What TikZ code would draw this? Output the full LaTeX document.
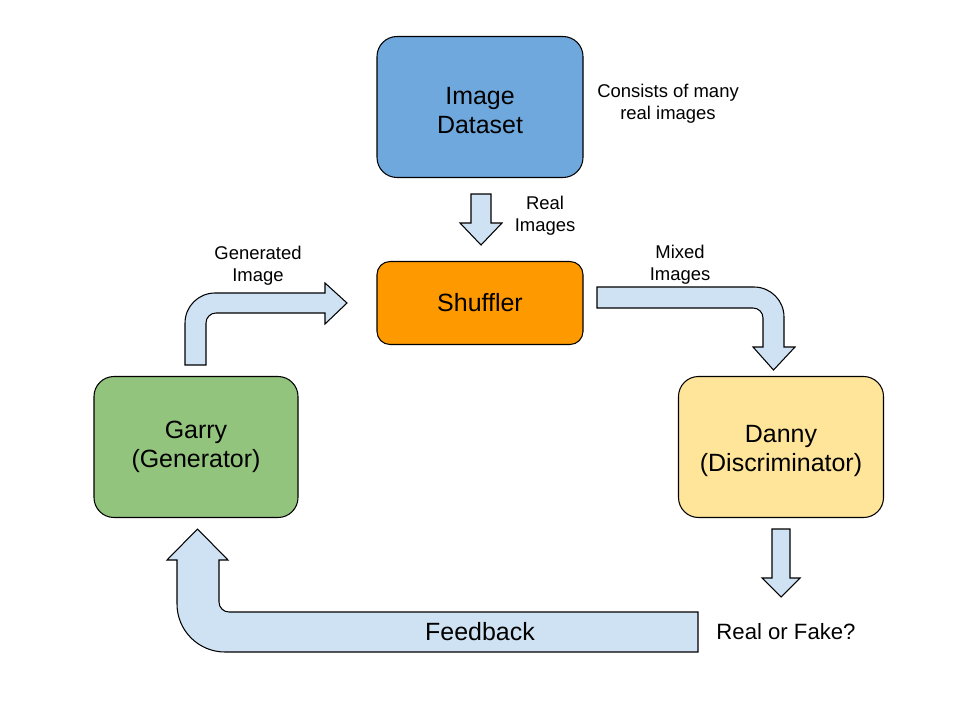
\documentclass[tikz,border=0pt]{standalone}
\usepackage{fontspec}
\setmainfont{Liberation Sans}
\usepackage{tikz}

\definecolor{dsblue}{HTML}{6FA8DC}
\definecolor{shorange}{HTML}{FF9900}
\definecolor{gengreen}{HTML}{93C47D}
\definecolor{discyellow}{HTML}{FFE599}
\definecolor{arrowblue}{HTML}{CFE2F3}

\tikzset{
  box/.style={draw=black, line width=0.6pt, rounded corners=4mm, align=center,
    minimum width=4.12cm, minimum height=2.82cm, inner sep=0pt,
    font=\fontsize{14.2}{16.5}\selectfont},
  note/.style={align=center, font=\fontsize{10.5}{12.5}\selectfont},
  blockarrow/.style={fill=arrowblue, draw=black, line width=0.6pt, line join=miter}
}

\begin{document}
\begin{tikzpicture}[x=0.2mm, y=0.2mm]
\useasboundingbox[fill=white] (0,0) rectangle (960,-720);
% boxes
\node[box, fill=dsblue, text height=30pt] (dataset) at (480,-107) {Image\\Dataset};
\node[box, fill=shorange, minimum height=1.66cm, rounded corners=2.6mm] (shuffler) at (480,-303) {Shuffler};
\node[box, fill=gengreen, minimum width=4.08cm] (garry) at (196,-447) {Garry\\(Generator)};
\node[box, fill=discyellow, minimum width=4.1cm, text height=31pt] (danny) at (781,-447) {Danny\\(Discriminator)};
% labels
\node[note] (many) at (668,-103.5) {Consists of many\\real images};
\node[note] (realimg) at (545,-215.5) {Real\\Images};
\node[note] (genimg) at (258,-265.5) {Generated\\Image};
\node[note] (mixed) at (680,-264.5) {Mixed\\Images};
% block arrows
\draw[blockarrow] (471,-194) -- (491,-194) -- (491,-223) -- (502,-223) -- (481,-245)
  -- (460,-223) -- (471,-223) -- cycle;
\draw[blockarrow] (772,-529) -- (790,-529) -- (790,-578) -- (800,-578) -- (781,-597)
  -- (762,-578) -- (772,-578) -- cycle;
\draw[blockarrow] (185,-365) -- (185,-323) arc[start angle=180, end angle=90, radius=6mm]
  -- (325,-293) -- (325,-283) -- (347,-303) -- (325,-324) -- (325,-313)
  -- (216,-313) arc[start angle=90, end angle=180, radius=2mm] -- (206,-365) -- cycle;
\draw[blockarrow] (597,-287) -- (754,-287) arc[start angle=90, end angle=0, radius=6mm]
  -- (784,-347) -- (795,-347) -- (773.5,-370) -- (753,-347) -- (763,-347)
  -- (763,-318) arc[start angle=0, end angle=90, radius=2mm] -- (597,-308) -- cycle;
\draw[blockarrow] (698,-612) -- (229,-612) arc[start angle=270, end angle=180, radius=2mm]
  -- (219,-560) -- (228,-560) -- (197.5,-529) -- (167,-560) -- (177,-560)
  -- (177,-604) arc[start angle=180, end angle=270, radius=9.6mm] -- (698,-652) -- cycle;
\node[font=\fontsize{14.2}{16.5}\selectfont] (feedback) at (480,-632) {Feedback};
\node[font=\fontsize{12.6}{15}\selectfont] (verdict) at (786,-632) {Real or Fake?};
\end{tikzpicture}
\end{document}
